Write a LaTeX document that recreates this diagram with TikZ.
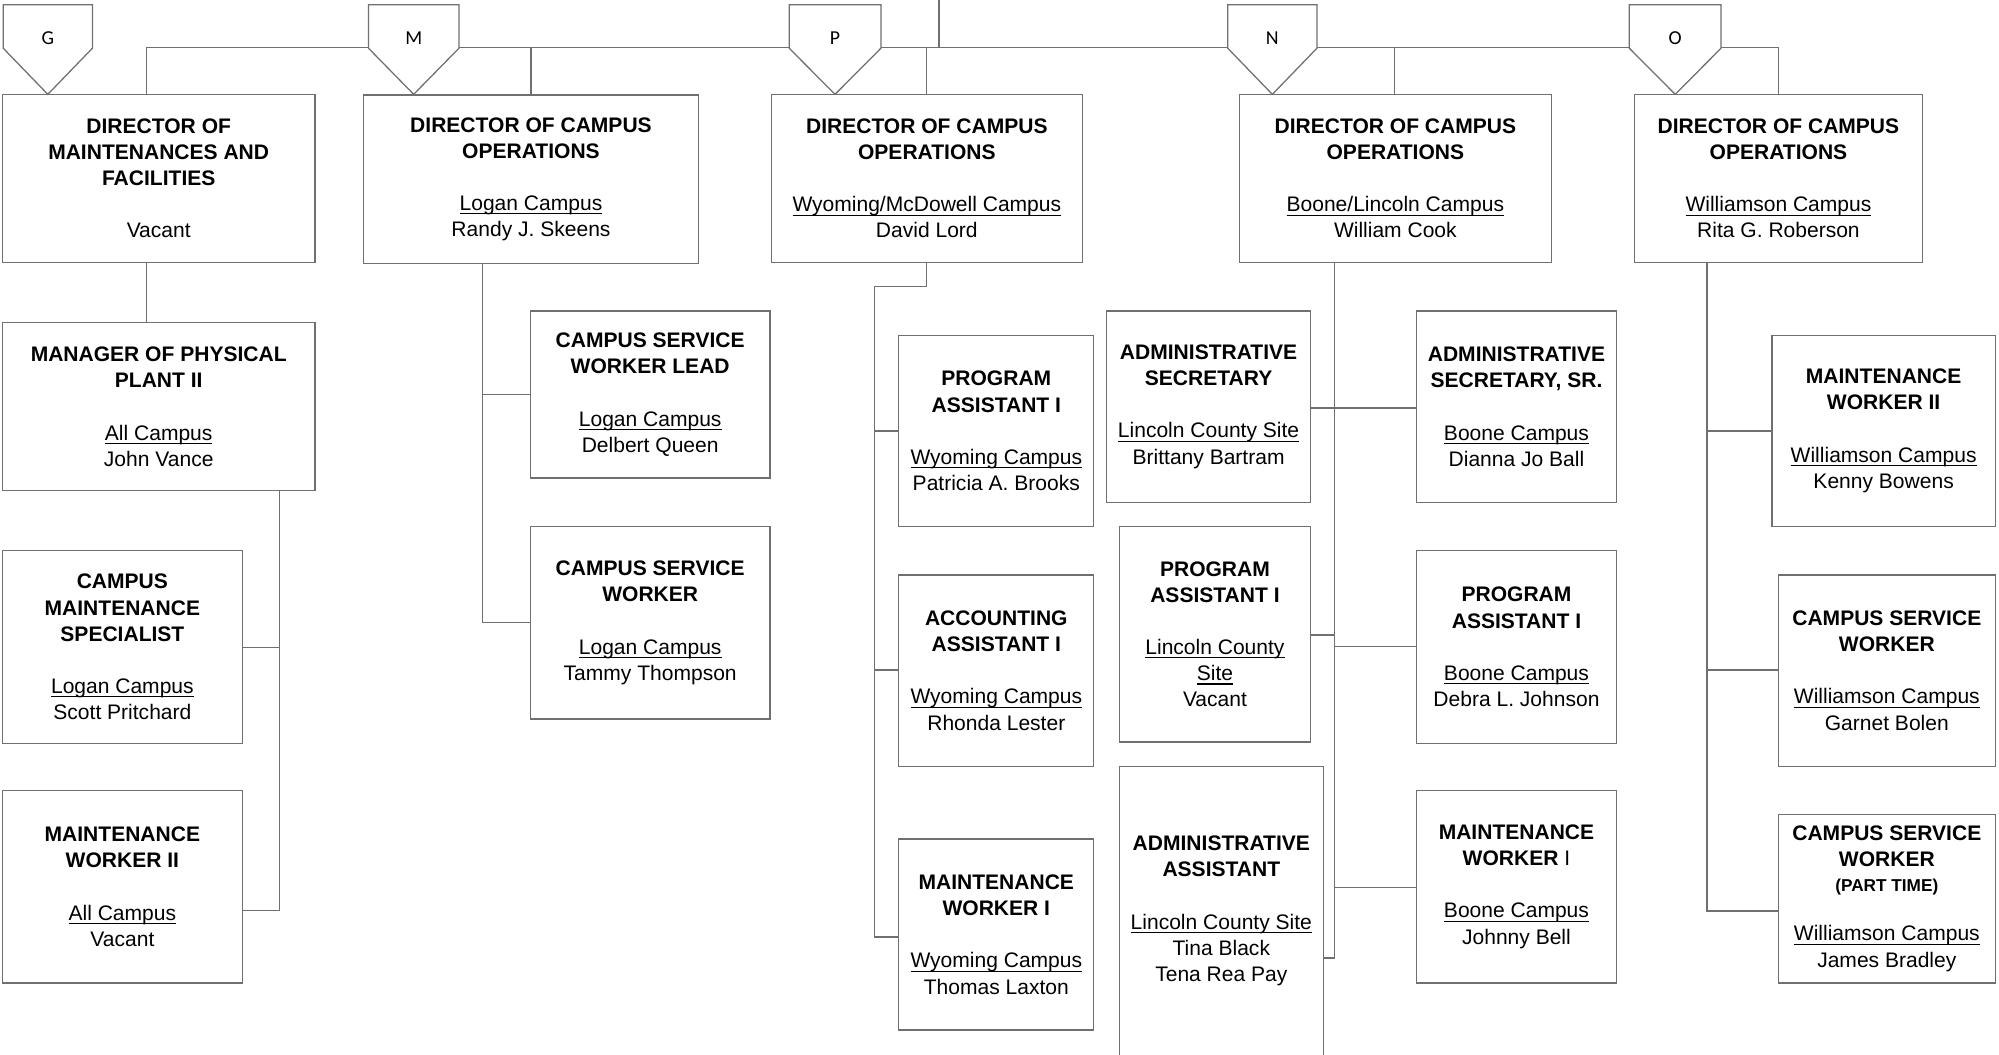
\documentclass[tikz,border=0pt]{standalone}
\usepackage{fontspec}
\setmainfont{Liberation Sans}
\newfontfamily\calibfont{Carlito}
\definecolor{linec}{RGB}{112,112,112}
\newcommand\ulc[1]{\setbox0\hbox{#1}\rlap{\rule[-3pt]{\wd0}{0.9pt}}\box0}
\newcommand\T[1]{\textbf{#1}}
\begin{document}
\begin{tikzpicture}[x=1pt,y=-1pt,
  ln/.style={draw=linec,line width=1pt},
  box/.style={draw=linec,line width=1pt,fill=white,rectangle,inner sep=0pt,align=center,
    font=\fontsize{16.5}{20.5}\selectfont},
  offlbl/.style={font={\calibfont\fontsize{15.5}{17}\selectfont},inner sep=0pt}]
\useasboundingbox (0,0) rectangle (1568,827);
\clip (0,0) rectangle (1568,827);

% ---------- directors ----------
\node[box,minimum width=245pt,minimum height=132pt] (d1) at (124.5,140)
  {\T{DIRECTOR OF}\\\T{MAINTENANCES AND}\\\T{FACILITIES}\\[20.5pt]Vacant};
\node[box,minimum width=263pt,minimum height=132pt] (d2) at (416.5,140.5)
  {\T{DIRECTOR OF CAMPUS}\\\T{OPERATIONS}\\[20.5pt]\ulc{Logan Campus}\\Randy J. Skeens};
\node[box,minimum width=244pt,minimum height=132pt] (d3) at (727,140)
  {\T{DIRECTOR OF CAMPUS}\\\T{OPERATIONS}\\[20.5pt]\ulc{Wyoming/McDowell Campus}\\David Lord};
\node[box,minimum width=245pt,minimum height=132pt] (d4) at (1094.5,140)
  {\T{DIRECTOR OF CAMPUS}\\\T{OPERATIONS}\\[20.5pt]\ulc{Boone/Lincoln Campus}\\William Cook};
\node[box,minimum width=226pt,minimum height=132pt] (d5) at (1395,140)
  {\T{DIRECTOR OF CAMPUS}\\\T{OPERATIONS}\\[20.5pt]\ulc{Williamson Campus}\\Rita G. Roberson};

% ---------- column 1 ----------
\node[box,minimum width=245pt,minimum height=132pt] (mgr) at (124.5,319)
  {\T{MANAGER OF PHYSICAL}\\\T{PLANT II}\\[20.5pt]\ulc{All Campus}\\John Vance};
\node[box,minimum width=188pt,minimum height=151pt] (cms) at (96,507.5)
  {\T{CAMPUS}\\\T{MAINTENANCE}\\\T{SPECIALIST}\\[20.5pt]\ulc{Logan Campus}\\Scott Pritchard};
\node[box,minimum width=188pt,minimum height=151pt] (mwa) at (96,695.5)
  {\T{MAINTENANCE}\\\T{WORKER II}\\[20.5pt]\ulc{All Campus}\\Vacant};

% ---------- column 2 ----------
\node[box,minimum width=188pt,minimum height=131pt] (cswl) at (510,309.5)
  {\T{CAMPUS SERVICE}\\\T{WORKER LEAD}\\[20.5pt]\ulc{Logan Campus}\\Delbert Queen};
\node[box,minimum width=188pt,minimum height=151pt] (csw) at (510,488.5)
  {\T{CAMPUS SERVICE}\\\T{WORKER}\\[20.5pt]\ulc{Logan Campus}\\Tammy Thompson};

% ---------- column 3 ----------
\node[box,minimum width=153pt,minimum height=150pt] (pa1w) at (781.5,338)
  {\T{PROGRAM}\\\T{ASSISTANT I}\\[20.5pt]\ulc{Wyoming Campus}\\Patricia A. Brooks};
\node[box,minimum width=153pt,minimum height=150pt] (acc) at (781.5,526)
  {\T{ACCOUNTING}\\\T{ASSISTANT I}\\[20.5pt]\ulc{Wyoming Campus}\\Rhonda Lester};
\node[box,minimum width=153pt,minimum height=150pt] (mw1w) at (781.5,733)
  {\T{MAINTENANCE}\\\T{WORKER I}\\[20.5pt]\ulc{Wyoming Campus}\\Thomas Laxton};

% ---------- column 4 ----------
\node[box,minimum width=160pt,minimum height=150pt] (asec) at (948,319)
  {\T{ADMINISTRATIVE}\\\T{SECRETARY}\\[20.5pt]\ulc{Lincoln County Site}\\Brittany Bartram};
\node[box,minimum width=150pt,minimum height=169pt] (pa1l) at (953,497.5)
  {\T{PROGRAM}\\\T{ASSISTANT I}\\[20.5pt]\ulc{Lincoln County}\\\ulc{Site}\\Vacant};
\node[box,minimum width=160pt,minimum height=227pt] (aasst) at (958,714.5)
  {\T{ADMINISTRATIVE}\\\T{ASSISTANT}\\[20.5pt]\ulc{Lincoln County Site}\\Tina Black\\Tena Rea Pay};
\node[box,minimum width=157pt,minimum height=150pt] (asr) at (1189.5,319)
  {\T{ADMINISTRATIVE}\\\T{SECRETARY, SR.}\\[20.5pt]\ulc{Boone Campus}\\Dianna Jo Ball};
\node[box,minimum width=157pt,minimum height=151pt] (pa1b) at (1189.5,507.5)
  {\T{PROGRAM}\\\T{ASSISTANT I}\\[20.5pt]\ulc{Boone Campus}\\Debra L. Johnson};
\node[box,minimum width=157pt,minimum height=151pt] (mw1b) at (1189.5,695.5)
  {\T{MAINTENANCE}\\\T{WORKER} I\\[20.5pt]\ulc{Boone Campus}\\Johnny Bell};

% ---------- column 5 ----------
\node[box,minimum width=175pt,minimum height=150pt] (mw2w) at (1477.5,338)
  {\T{MAINTENANCE}\\\T{WORKER II}\\[20.5pt]\ulc{Williamson Campus}\\Kenny Bowens};
\node[box,minimum width=170pt,minimum height=150pt] (csww) at (1480,526)
  {\T{CAMPUS SERVICE}\\\T{WORKER}\\[20.5pt]\ulc{Williamson Campus}\\Garnet Bolen};
\node[box,minimum width=170pt,minimum height=132pt] (cswpt) at (1480,705)
  {\T{CAMPUS SERVICE}\\\T{WORKER}\\[-1.5pt]{\fontsize{13.5}{16}\selectfont\T{(PART TIME)}}\\[18.5pt]\ulc{Williamson Campus}\\James Bradley};

% ---------- top bus ----------
\coordinate (top) at (736.5,0);
\coordinate (busL) at (115,37);
\coordinate (busR) at (1395,37);
\draw[ln] (top) -- (top |- busL);
\draw[ln] (busL) -- (busR);
\foreach \n/\x in {d1/115,d2/416.5,d3/727,d4/1094,d5/1395}
  \draw[ln] (\x,37) -- (\x,37 |- \n.north);

% off-page connectors
\foreach \nm/\l/\r in {G/2.5/72.5,M/289/360,P/619/691,N/963/1033,O/1278/1350}{
  \draw[ln,fill=white] (\l,3.7) -- (\r,3.7) -- (\r,37.8) -- ({(\l+\r)/2},74) -- (\l,37.8) -- cycle;
  \node[offlbl] (off\nm) at ({(\l+\r)/2},30.3) {\nm};
}

% ---------- column 1 connectors ----------
\draw[ln] (115,0 |- d1.south) -- (115,0 |- mgr.north);
\coordinate (c1) at (219,0);
\coordinate (c1a) at (219,508);
\coordinate (c1b) at (219,714);
\draw[ln] (c1 |- mgr.south) -- (c1b) -- (c1b -| mwa.east);
\draw[ln] (c1a) -- (c1a -| cms.east);

% ---------- column 2 connectors ----------
\coordinate (c2) at (378.5,0);
\draw[ln] (c2 |- d2.south) |- (csw.west);
\draw[ln] (c2 |- cswl.west) -- (cswl.west);

% ---------- column 3 connectors ----------
\coordinate (c3a) at (727,225);
\coordinate (c3b) at (686,225);
\coordinate (c3c) at (686,735);
\draw[ln] (c3a |- d3.south) -- (c3a) -- (c3b) -- (c3c) -- (c3c -| mw1w.west);
\draw[ln] (c3b |- pa1w.west) -- (pa1w.west);
\draw[ln] (686,525.5) -- (686,525.5 -| acc.west);

% ---------- column 4 connectors ----------
\coordinate (c4) at (1047,0);
\coordinate (c4b) at (1047,751.5);
\draw[ln] (c4 |- d4.south) -- (c4b) -- (c4b -| aasst.east);
\draw[ln] (asec.east |- 0,320) -- (asr.west |- 0,320);
\draw[ln] (pa1l.east |- 0,498) -- (1047,498);
\draw[ln] (1047,507) -- (1047,507 -| pa1b.west);
\draw[ln] (1047,696) -- (1047,696 -| mw1b.west);

% ---------- column 5 connectors ----------
\coordinate (c5) at (1339,0);
\coordinate (c5b) at (1339,714.5);
\draw[ln] (c5 |- d5.south) -- (c5b) -- (c5b -| cswpt.west);
\draw[ln] (c5 |- mw2w.west) -- (mw2w.west);
\draw[ln] (1339,525.5) -- (1339,525.5 -| csww.west);
\end{tikzpicture}
\end{document}
